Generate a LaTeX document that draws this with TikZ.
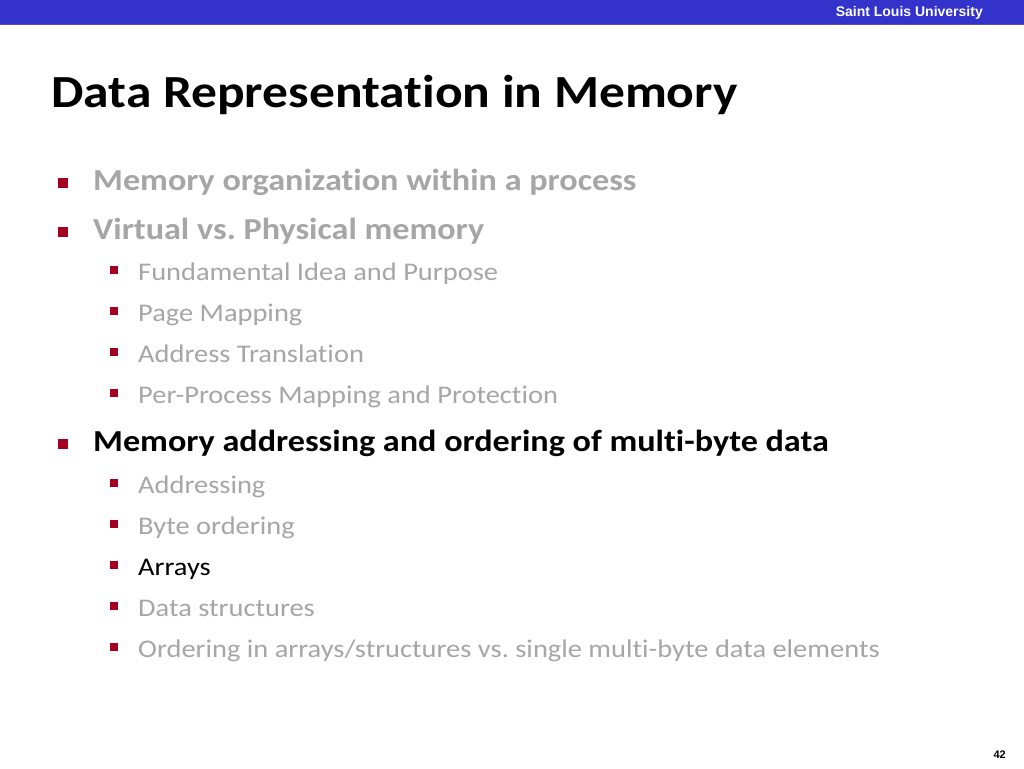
\documentclass[tikz,border=0pt]{standalone}
\usepackage{fontspec}
\setmainfont[Ligatures=NoCommon,FakeStretch=1.12]{Carlito}
\newfontfamily\arialf{Liberation Sans}
\frenchspacing
\definecolor{barblue}{HTML}{3333CC}
\definecolor{barline}{HTML}{5A4FB0}
\definecolor{dimgray}{HTML}{A6A6A6}
\definecolor{bulred}{HTML}{A50021}
\begin{document}
\begin{tikzpicture}[x=1pt,y=-1pt,
  lone/.style={anchor=base west,inner sep=0pt,font=\fontsize{30.5}{30.5}\selectfont\bfseries},
  ltwo/.style={anchor=base west,inner sep=0pt,font=\fontsize{25.4}{25.4}\selectfont},
  dim/.style={text=dimgray},
  bone/.style={fill=bulred,minimum size=10.5pt,inner sep=0pt},
  btwo/.style={fill=bulred,minimum size=7.5pt,inner sep=0pt}]
\useasboundingbox (0,0) rectangle (1024,768);
\fill[white] (0,0) rectangle (1024,768);
\fill[barblue] (0,0) rectangle (1024,25);
\draw[barline,line width=1pt] (0,25) -- (1024,25);
\node[anchor=east,inner sep=0pt,text=white,font=\arialf\fontsize{14}{14}\selectfont\bfseries] (hdr) at (983,13) {Saint Louis University};
\node[anchor=base west,inner sep=0pt,font=\fontsize{46}{46}\selectfont\bfseries] (title) at (51,107) {Data Representation in Memory};
% level 1
\node[bone] (b1) at (63,183) {};
\node[lone,dim] (t1) at (93,190) {Memory organization within a process};
\node[bone] (b2) at (63,232) {};
\node[lone,dim] (t2) at (93,239) {Virtual vs. Physical memory};
\node[btwo] (b21) at (114,270) {};
\node[ltwo,dim] (t21) at (138,280) {Fundamental Idea and Purpose};
\node[btwo] (b22) at (114,311) {};
\node[ltwo,dim] (t22) at (138,321) {Page Mapping};
\node[btwo] (b23) at (114,352) {};
\node[ltwo,dim] (t23) at (138,362) {Address Translation};
\node[btwo] (b24) at (114,393) {};
\node[ltwo,dim] (t24) at (138,403) {Per-Process Mapping and Protection};
\node[bone] (b3) at (63,444) {};
\node[lone] (t3) at (93,451) {Memory addressing and ordering of multi-byte data};
\node[btwo] (b31) at (114,483) {};
\node[ltwo,dim] (t31) at (138,493) {Addressing};
\node[btwo] (b32) at (114,524) {};
\node[ltwo,dim] (t32) at (138,534) {Byte ordering};
\node[btwo] (b33) at (114,565) {};
\node[ltwo] (t33) at (138,575) {Arrays};
\node[btwo] (b34) at (114,606) {};
\node[ltwo,dim] (t34) at (138,616) {Data structures};
\node[btwo] (b35) at (114,647) {};
\node[ltwo,dim] (t35) at (138,657) {Ordering in arrays/structures vs. single multi-byte data elements};
\node[anchor=east,inner sep=0pt,font=\arialf\fontsize{11}{11}\selectfont\bfseries] (pg) at (1006,755) {42};
\end{tikzpicture}
\end{document}
